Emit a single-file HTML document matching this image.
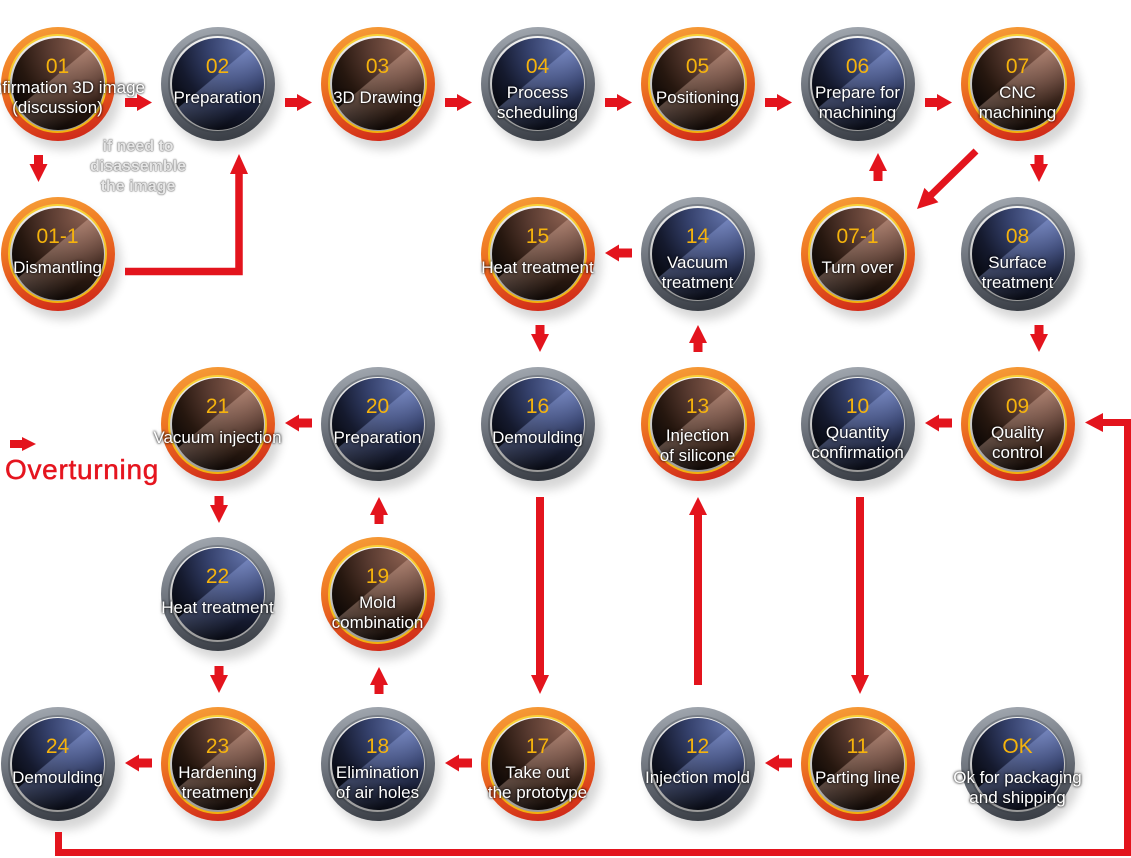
<!DOCTYPE html>
<html>
<head>
<meta charset="utf-8">
<style>
html,body{margin:0;padding:0;background:#fff;}
body{width:1131px;height:858px;position:relative;overflow:hidden;font-family:"Liberation Sans","DejaVu Sans",sans-serif;}
.n{position:absolute;width:114px;height:114px;border-radius:50%;box-shadow:6px 9px 10px rgba(0,0,0,.16);}
.o{background:linear-gradient(165deg,#f7a33b 0%,#f07d25 35%,#e2511d 65%,#c91c18 100%);}
.g{background:linear-gradient(170deg,#a7adb5 0%,#7d838c 35%,#535861 70%,#32363d 100%);}
.n .a{position:absolute;left:7.5px;top:7.5px;width:99px;height:99px;border-radius:50%;}
.o .a{background:linear-gradient(180deg,#f8d23a,#f2b10f);}
.g .a{background:linear-gradient(180deg,#7a8089,#3c4148);}
.n .b{position:absolute;left:9.5px;top:9.5px;width:95px;height:95px;border-radius:50%;background:linear-gradient(180deg,#f4f4f4,#9a9a9a);}
.n .c{position:absolute;left:11px;top:11px;width:92px;height:92px;border-radius:50%;}
.o .c{background:linear-gradient(140deg,rgba(255,255,255,0) 44%,rgba(255,210,190,.3) 44.6%,rgba(255,255,255,0) 78%),radial-gradient(circle at 80% 6%,#8c6050 0%,#583a30 33%,#26170f 60%,#040202 88%);}
.g .c{background:linear-gradient(140deg,rgba(255,255,255,0) 44%,rgba(170,190,255,.3) 44.6%,rgba(255,255,255,0) 78%),radial-gradient(circle at 80% 6%,#6272a8 0%,#35416c 33%,#151a2e 60%,#020306 88%);}
.num{position:absolute;width:200px;text-align:center;font-size:21px;line-height:24px;color:#f5b30c;white-space:nowrap;}
.lb{position:absolute;width:220px;text-align:center;font-size:17px;line-height:20px;color:#fff;white-space:nowrap;text-shadow:0 0 2px rgba(0,0,0,.9),0 0 3px rgba(0,0,0,.6);}
.note{position:absolute;left:58px;top:137px;width:160px;text-align:center;font-weight:bold;font-size:16px;line-height:20px;color:#e6e6e6;text-shadow:0 0 1px #777,0 0 2px #888,0 0 1px #666;}
.ov{position:absolute;left:5px;top:456px;font-size:28px;line-height:28px;letter-spacing:0.7px;color:#e5151f;white-space:nowrap;-webkit-text-stroke:0.5px #e5151f;}
svg{position:absolute;left:0;top:0;}
</style>
</head>
<body>

<!-- Row 0 -->
<div class="n o" style="left:0.5px;top:26.5px"><div class="a"></div><div class="b"></div><div class="c"></div></div>
<div class="n g" style="left:160.5px;top:26.5px"><div class="a"></div><div class="b"></div><div class="c"></div></div>
<div class="n o" style="left:320.5px;top:26.5px"><div class="a"></div><div class="b"></div><div class="c"></div></div>
<div class="n g" style="left:480.5px;top:26.5px"><div class="a"></div><div class="b"></div><div class="c"></div></div>
<div class="n o" style="left:640.5px;top:26.5px"><div class="a"></div><div class="b"></div><div class="c"></div></div>
<div class="n g" style="left:800.5px;top:26.5px"><div class="a"></div><div class="b"></div><div class="c"></div></div>
<div class="n o" style="left:960.5px;top:26.5px"><div class="a"></div><div class="b"></div><div class="c"></div></div>

<!-- Row 1 -->
<div class="n o" style="left:0.5px;top:196.5px"><div class="a"></div><div class="b"></div><div class="c"></div></div>
<div class="n o" style="left:480.5px;top:196.5px"><div class="a"></div><div class="b"></div><div class="c"></div></div>
<div class="n g" style="left:640.5px;top:196.5px"><div class="a"></div><div class="b"></div><div class="c"></div></div>
<div class="n o" style="left:800.5px;top:196.5px"><div class="a"></div><div class="b"></div><div class="c"></div></div>
<div class="n g" style="left:960.5px;top:196.5px"><div class="a"></div><div class="b"></div><div class="c"></div></div>

<!-- Row 2 -->
<div class="n o" style="left:160.5px;top:367px"><div class="a"></div><div class="b"></div><div class="c"></div></div>
<div class="n g" style="left:320.5px;top:367px"><div class="a"></div><div class="b"></div><div class="c"></div></div>
<div class="n g" style="left:480.5px;top:367px"><div class="a"></div><div class="b"></div><div class="c"></div></div>
<div class="n o" style="left:640.5px;top:367px"><div class="a"></div><div class="b"></div><div class="c"></div></div>
<div class="n g" style="left:800.5px;top:367px"><div class="a"></div><div class="b"></div><div class="c"></div></div>
<div class="n o" style="left:960.5px;top:367px"><div class="a"></div><div class="b"></div><div class="c"></div></div>

<!-- Row 3 -->
<div class="n g" style="left:160.5px;top:537px"><div class="a"></div><div class="b"></div><div class="c"></div></div>
<div class="n o" style="left:320.5px;top:537px"><div class="a"></div><div class="b"></div><div class="c"></div></div>

<!-- Row 4 -->
<div class="n g" style="left:0.5px;top:707px"><div class="a"></div><div class="b"></div><div class="c"></div></div>
<div class="n o" style="left:160.5px;top:707px"><div class="a"></div><div class="b"></div><div class="c"></div></div>
<div class="n g" style="left:320.5px;top:707px"><div class="a"></div><div class="b"></div><div class="c"></div></div>
<div class="n o" style="left:480.5px;top:707px"><div class="a"></div><div class="b"></div><div class="c"></div></div>
<div class="n g" style="left:640.5px;top:707px"><div class="a"></div><div class="b"></div><div class="c"></div></div>
<div class="n o" style="left:800.5px;top:707px"><div class="a"></div><div class="b"></div><div class="c"></div></div>
<div class="n g" style="left:960.5px;top:707px"><div class="a"></div><div class="b"></div><div class="c"></div></div>

<!-- Connectors and arrows -->
<svg width="1131" height="858" viewBox="0 0 1131 858">
<g fill="#e3141d" stroke="none">
  <rect x="125" y="98" width="13" height="9"/><polygon points="137,94 152,102.5 137,111"/>
  <rect x="285" y="98" width="13" height="9"/><polygon points="297,94 312,102.5 297,111"/>
  <rect x="445" y="98" width="13" height="9"/><polygon points="457,94 472,102.5 457,111"/>
  <rect x="605" y="98" width="13" height="9"/><polygon points="617,94 632,102.5 617,111"/>
  <rect x="765" y="98" width="13" height="9"/><polygon points="777,94 792,102.5 777,111"/>
  <rect x="925" y="98" width="13" height="9"/><polygon points="937,94 952,102.5 937,111"/>
  <rect x="10" y="440" width="13" height="8"/><polygon points="22,437 36,444 22,451"/>
  <polygon points="605,253 619,244.5 619,261.5"/><rect x="618" y="248.5" width="14" height="9"/>
  <polygon points="925,423 939,414.5 939,431.5"/><rect x="938" y="418.5" width="14" height="9"/>
  <polygon points="285,423 299,414.5 299,431.5"/><rect x="298" y="418.5" width="14" height="9"/>
  <polygon points="125,763 139,754.5 139,771.5"/><rect x="138" y="758.5" width="14" height="9"/>
  <polygon points="445,763 459,754.5 459,771.5"/><rect x="458" y="758.5" width="14" height="9"/>
  <polygon points="765,763 779,754.5 779,771.5"/><rect x="778" y="758.5" width="14" height="9"/>
  <rect x="34" y="155" width="9" height="10"/><polygon points="29.5,164 47.5,164 38.5,182"/>
  <rect x="1034.5" y="155" width="9" height="10"/><polygon points="1030,164 1048,164 1039,182"/>
  <rect x="535.5" y="325" width="9" height="10"/><polygon points="531,334 549,334 540,352"/>
  <rect x="1034.5" y="325" width="9" height="10"/><polygon points="1030,334 1048,334 1039,352"/>
  <rect x="214.5" y="496" width="9" height="10"/><polygon points="210,505 228,505 219,523"/>
  <rect x="214.5" y="666" width="9" height="10"/><polygon points="210,675 228,675 219,693"/>
  <polygon points="878,153 869,171 887,171"/><rect x="873.5" y="170" width="9" height="11"/>
  <polygon points="698,325 689,343 707,343"/><rect x="693.5" y="342" width="9" height="10"/>
  <polygon points="379,497 370,515 388,515"/><rect x="374.5" y="514" width="9" height="10"/>
  <polygon points="379,667 370,685 388,685"/><rect x="374.5" y="684" width="9" height="10"/>
  <polygon points="230,174 248,174 239,154"/>
  <polygon points="531,675 549,675 540,694"/>
  <polygon points="689,515 707,515 698,497"/>
  <polygon points="851,675 869,675 860,694"/>
  <polygon points="1103,413 1103,432 1085,422.5"/>
  <polygon points="917,209 938.4,202.3 924.4,187.9"/>
</g>
<g fill="none" stroke="#e3141d" stroke-linejoin="miter" stroke-linecap="butt">
  <polyline points="125,271.5 239,271.5 239,172" stroke-width="7.5"/>
  <line x1="540" y1="497" x2="540" y2="677" stroke-width="8"/>
  <line x1="698" y1="685" x2="698" y2="513" stroke-width="8"/>
  <line x1="860" y1="497" x2="860" y2="677" stroke-width="8"/>
  <polyline points="58.5,832 58.5,852.5 1127.5,852.5 1127.5,422.5 1102,422.5" stroke-width="7"/>
  <line x1="976" y1="151" x2="930" y2="196" stroke-width="7"/>
</g>
</svg>

<!-- Numbers -->
<div class="num" style="left:-42.5px;top:54.5px">01</div>
<div class="num" style="left:117.5px;top:54.5px">02</div>
<div class="num" style="left:277.5px;top:54.5px">03</div>
<div class="num" style="left:437.5px;top:54.5px">04</div>
<div class="num" style="left:597.5px;top:54.5px">05</div>
<div class="num" style="left:757.5px;top:54.5px">06</div>
<div class="num" style="left:917.5px;top:54.5px">07</div>

<div class="num" style="left:-42.5px;top:224.5px">01-1</div>
<div class="num" style="left:437.5px;top:224.5px">15</div>
<div class="num" style="left:597.5px;top:224.5px">14</div>
<div class="num" style="left:757.5px;top:224.5px">07-1</div>
<div class="num" style="left:917.5px;top:224.5px">08</div>

<div class="num" style="left:117.5px;top:395px">21</div>
<div class="num" style="left:277.5px;top:395px">20</div>
<div class="num" style="left:437.5px;top:395px">16</div>
<div class="num" style="left:597.5px;top:395px">13</div>
<div class="num" style="left:757.5px;top:395px">10</div>
<div class="num" style="left:917.5px;top:395px">09</div>

<div class="num" style="left:117.5px;top:565px">22</div>
<div class="num" style="left:277.5px;top:565px">19</div>

<div class="num" style="left:-42.5px;top:735px">24</div>
<div class="num" style="left:117.5px;top:735px">23</div>
<div class="num" style="left:277.5px;top:735px">18</div>
<div class="num" style="left:437.5px;top:735px">17</div>
<div class="num" style="left:597.5px;top:735px">12</div>
<div class="num" style="left:757.5px;top:735px">11</div>
<div class="num" style="left:917.5px;top:735px">OK</div>

<!-- Labels -->
<div class="lb" style="left:-100px;width:245px;text-align:right;top:77.5px">Confirmation 3D image</div>
<div class="lb" style="left:-52.5px;top:97.5px">(discussion)</div>
<div class="lb" style="left:107.5px;top:87.5px">Preparation</div>
<div class="lb" style="left:267.5px;top:87.5px">3D Drawing</div>
<div class="lb" style="left:427.5px;top:82.5px">Process<br>scheduling</div>
<div class="lb" style="left:587.5px;top:87.5px">Positioning</div>
<div class="lb" style="left:747.5px;top:82.5px">Prepare for<br>machining</div>
<div class="lb" style="left:907.5px;top:82.5px">CNC<br>machining</div>

<div class="lb" style="left:-52.5px;top:257.5px">Dismantling</div>
<div class="lb" style="left:427.5px;top:257.5px">Heat treatment</div>
<div class="lb" style="left:587.5px;top:252.5px">Vacuum<br>treatment</div>
<div class="lb" style="left:747.5px;top:257.5px">Turn over</div>
<div class="lb" style="left:907.5px;top:252.5px">Surface<br>treatment</div>

<div class="lb" style="left:107.5px;top:428px">Vacuum injection</div>
<div class="lb" style="left:267.5px;top:428px">Preparation</div>
<div class="lb" style="left:427.5px;top:428px">Demoulding</div>
<div class="lb" style="left:587.5px;top:426px">Injection<br>of silicone</div>
<div class="lb" style="left:747.5px;top:423px">Quantity<br>confirmation</div>
<div class="lb" style="left:907.5px;top:423px">Quality<br>control</div>

<div class="lb" style="left:107.5px;top:598px">Heat treatment</div>
<div class="lb" style="left:267.5px;top:593px">Mold<br>combination</div>

<div class="lb" style="left:-52.5px;top:768px">Demoulding</div>
<div class="lb" style="left:107.5px;top:763px">Hardening<br>treatment</div>
<div class="lb" style="left:267.5px;top:763px">Elimination<br>of air holes</div>
<div class="lb" style="left:427.5px;top:763px">Take out<br>the prototype</div>
<div class="lb" style="left:587.5px;top:768px">Injection mold</div>
<div class="lb" style="left:747.5px;top:768px">Parting line</div>
<div class="lb" style="left:907.5px;top:768px">Ok for packaging<br>and shipping</div>

<div class="note">if need to<br>disassemble<br>the image</div>
<div class="ov">Overturning</div>

</body>
</html>
